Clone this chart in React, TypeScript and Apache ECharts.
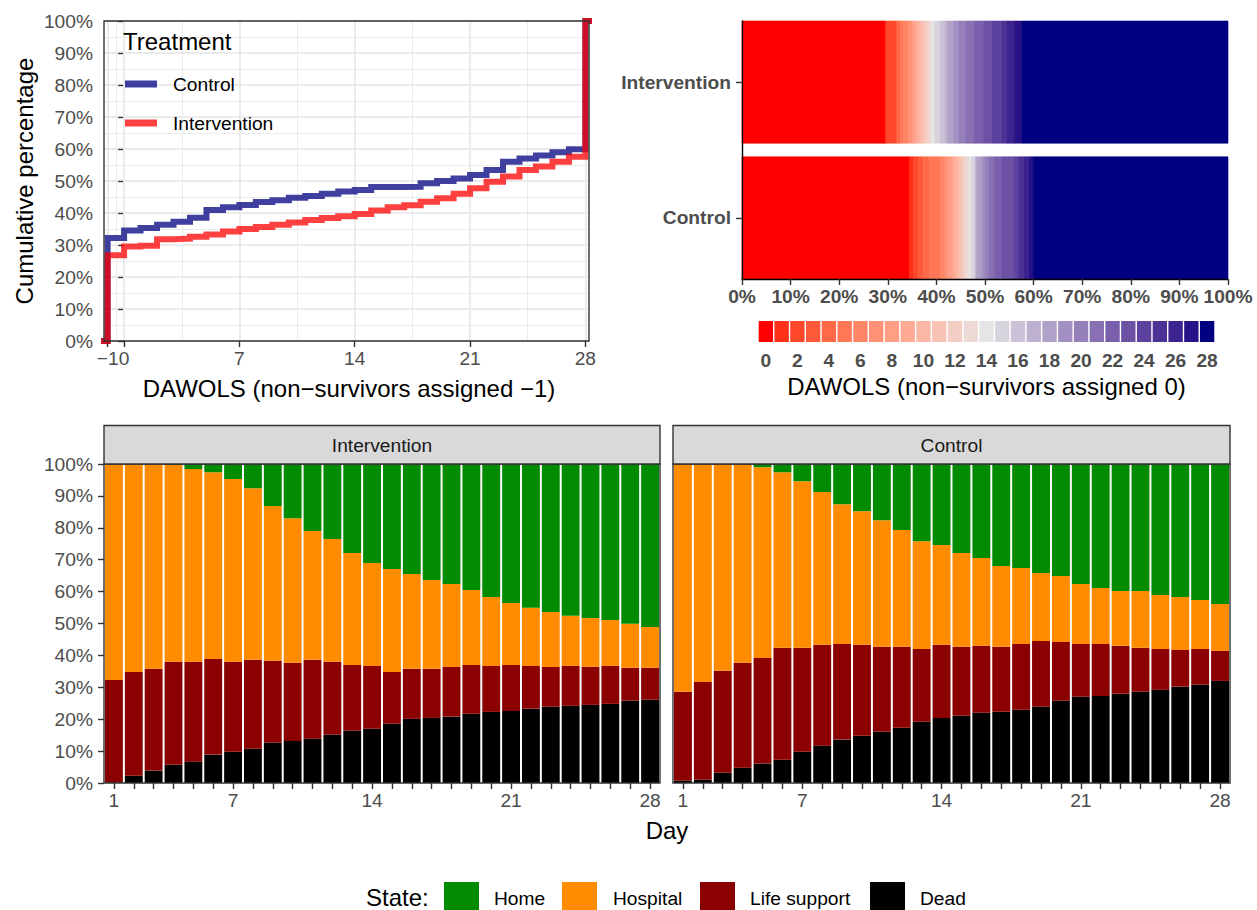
import React, { useEffect, useRef } from "react";
import * as echarts from "echarts";

const FONT = '"Liberation Sans", Arial, Helvetica, sans-serif';
const TICK = "#4D4D4D";
const DARK = "#333333";
const GRIDC = "#EBEBEB";

// ---- Top-left: cumulative DAWOLS (non-survivors assigned -1) ----
const ecdfDays = [-1, 0, 1, 2, 3, 4, 5, 6, 7, 8, 9, 10, 11, 12, 13, 14, 15, 16, 17, 18, 19, 20, 21, 22, 23, 24, 25, 26, 27, 28];
const ecdfControl = [32.2, 34.5, 35.3, 36.3, 37.3, 38.5, 40.9, 41.8, 42.5, 43.4, 44.0, 44.8, 45.3, 46.0, 46.7, 47.2, 48.1, 48.1, 48.2, 49.3, 50.0, 50.8, 51.9, 53.4, 56.0, 57.0, 58.0, 59.0, 59.9, 100];
const ecdfIntervention = [26.8, 29.5, 29.8, 31.8, 32.0, 32.6, 33.3, 34.2, 35.0, 35.6, 36.3, 37.0, 37.8, 38.4, 39.0, 39.7, 40.8, 41.8, 42.4, 43.5, 44.6, 46.0, 47.7, 49.8, 51.4, 53.4, 54.5, 56.0, 57.6, 100];
const ecdfTickDays = [-1, 0, 7, 14, 21, 28];
const ecdfMinorDays = [-0.5, 3.5, 10.5, 17.5, 24.5];

// ---- Top-right: DAWOLS distribution (non-survivors assigned 0) ----
const heatGroups = ["Control", "Intervention"];
const dawolsLevels = ["0", "1", "2", "3", "4", "5", "6", "7", "8", "9", "10", "11", "12", "13", "14", "15", "16", "17", "18", "19", "20", "21", "22", "23", "24", "25", "26", "27", "28"];

// ---- Bottom: daily state ----
const days = ["1", "2", "3", "4", "5", "6", "7", "8", "9", "10", "11", "12", "13", "14", "15", "16", "17", "18", "19", "20", "21", "22", "23", "24", "25", "26", "27", "28"];
const dayLabels = ["1", "7", "14", "21", "28"];
const states = ["Home", "Hospital", "Life support", "Dead"];
const stateColors = ["#008B00", "#FF8C00", "#8B0000", "#000000"];

const intDead = [0.2, 2.3, 3.9, 5.7, 6.7, 8.9, 9.8, 10.7, 12.6, 13.2, 13.9, 15.1, 16.4, 17.0, 18.6, 20.1, 20.4, 20.8, 21.7, 22.3, 22.6, 23.3, 23.9, 24.2, 24.5, 24.8, 25.8, 26.1];
const intLife = [32.1, 32.5, 31.9, 32.3, 31.3, 30.0, 28.2, 27.9, 25.7, 24.5, 24.7, 22.9, 20.6, 19.7, 16.2, 15.7, 15.4, 15.6, 15.3, 14.4, 14.4, 13.4, 12.5, 12.5, 11.9, 11.9, 10.3, 10.0];
const intHosp = [67.7, 65.2, 64.2, 61.7, 60.4, 58.5, 57.3, 53.8, 48.5, 45.3, 40.4, 38.5, 35.1, 32.3, 32.3, 29.7, 27.8, 26.0, 23.5, 21.6, 19.4, 18.2, 17.2, 15.7, 15.3, 14.4, 13.8, 12.8];
const intHome = [0, 0, 0, 0.3, 1.6, 2.6, 4.7, 7.6, 13.2, 17.0, 21.0, 23.5, 27.9, 31.0, 32.9, 34.5, 36.4, 37.6, 39.5, 41.7, 43.6, 45.1, 46.4, 47.6, 48.3, 48.9, 50.1, 51.1];

const ctlDead = [0.7, 1.0, 3.2, 4.8, 6.1, 7.3, 9.8, 11.7, 13.6, 14.8, 16.1, 17.3, 19.2, 20.4, 21.1, 22.0, 22.3, 23.0, 23.9, 25.8, 27.0, 27.3, 28.0, 28.6, 29.2, 30.2, 30.8, 32.0];
const ctlLife = [27.9, 30.7, 32.0, 32.9, 33.1, 35.1, 32.6, 31.6, 30.0, 28.5, 26.6, 25.4, 22.8, 22.9, 21.6, 21.0, 20.4, 20.6, 20.6, 18.4, 16.6, 16.3, 15.0, 13.8, 12.8, 11.5, 11.2, 9.4];
const ctlHosp = [71.4, 68.3, 64.8, 62.3, 59.8, 55.0, 52.2, 47.9, 43.8, 41.9, 39.7, 36.6, 33.8, 31.3, 29.4, 27.5, 25.3, 23.8, 21.3, 20.7, 18.8, 17.5, 17.2, 17.8, 16.9, 16.6, 15.4, 14.7];
const ctlHome = [0, 0, 0, 0, 1.0, 2.6, 5.4, 8.8, 12.6, 14.8, 17.6, 20.7, 24.2, 25.4, 27.9, 29.5, 32.0, 32.6, 34.2, 35.1, 37.6, 38.9, 39.8, 39.8, 41.1, 41.7, 42.6, 43.9];

// ---- Lab gradient (red -> grey90 -> navy, midpoint 14) ----
function hexToRgb(h: string) {
  const n = parseInt(h.slice(1), 16);
  return [(n >> 16) & 255, (n >> 8) & 255, n & 255];
}
function toLab(hex: string) {
  const [r, g, b] = hexToRgb(hex).map((c) => {
    const v = c / 255;
    return v <= 0.04045 ? v / 12.92 : Math.pow((v + 0.055) / 1.055, 2.4);
  });
  const X = (0.4124 * r + 0.3576 * g + 0.1805 * b) / 0.95047;
  const Y = 0.2126 * r + 0.7152 * g + 0.0722 * b;
  const Z = (0.0193 * r + 0.1192 * g + 0.9505 * b) / 1.08883;
  const f = (t: number) => (t > 0.008856 ? Math.cbrt(t) : 7.787 * t + 16 / 116);
  const fx = f(X), fy = f(Y), fz = f(Z);
  return [116 * fy - 16, 500 * (fx - fy), 200 * (fy - fz)];
}
function fromLab(L: number, a: number, bb: number) {
  const fy = (L + 16) / 116;
  const fx = fy + a / 500;
  const fz = fy - bb / 200;
  const inv = (t: number) => (t * t * t > 0.008856 ? t * t * t : (t - 16 / 116) / 7.787);
  const X = inv(fx) * 0.95047, Y = inv(fy), Z = inv(fz) * 1.08883;
  const lin = [
    3.2406 * X - 1.5372 * Y - 0.4986 * Z,
    -0.9689 * X + 1.8758 * Y + 0.0415 * Z,
    0.0557 * X - 0.204 * Y + 1.057 * Z,
  ];
  const out = lin.map((c) => {
    const v = c <= 0.0031308 ? 12.92 * c : 1.055 * Math.pow(c, 1 / 2.4) - 0.055;
    return Math.max(0, Math.min(255, Math.round(v * 255)));
  });
  return `rgb(${out[0]},${out[1]},${out[2]})`;
}
const LOW = toLab("#FF0000"), MID = toLab("#E5E5E5"), HIGH = toLab("#000080");
function divColor(d: number) {
  const [A, B, t] = d <= 14 ? [LOW, MID, d / 14] : [MID, HIGH, (d - 14) / 14];
  return fromLab(A[0] + (B[0] - A[0]) * t, A[1] + (B[1] - A[1]) * t, A[2] + (B[2] - A[2]) * t);
}
const palette = dawolsLevels.map((l) => divColor(Number(l)));

function heatData(cum: number[], g: number) {
  const out: number[][] = [];
  dawolsLevels.forEach((l, d) => {
    const start = d === 0 ? 0 : cum[d];
    const end = cum[d + 1];
    out.push([d, g, start, end]);
  });
  return out;
}

function ecdfData(vals: number[]) {
  return [[-2, 0], ...ecdfDays.map((d, i) => [d, vals[i]]), [29, 100]];
}

const tickStyle = { color: DARK, width: 1.4 };
const labelBase = { color: TICK, fontSize: 19.2, fontFamily: FONT };

function txt(text: string, x: number, y: number, size: number, extra: any = {}) {
  return {
    type: "text",
    x,
    y,
    z: 100,
    silent: true,
    style: {
      text,
      fontSize: size,
      fontFamily: FONT,
      fill: extra.fill || "#000000",
      align: extra.align || "center",
      verticalAlign: "middle",
      fontWeight: extra.fontWeight || "normal",
    },
    rotation: extra.rotation || 0,
  };
}

export default function App() {
  const ref = useRef<HTMLDivElement>(null);
  useEffect(() => {
    if (!ref.current) return;
    const chart = echarts.init(ref.current, null, { renderer: "svg" });

    const stackSeries = (name: string, data: number[], color: string, idx: number, stack: string) => ({
      name,
      type: "bar",
      xAxisIndex: idx,
      yAxisIndex: idx,
      stack,
      data,
      barCategoryGap: "10%",
      itemStyle: { color },
      silent: true,
    });

    const bottomLegend: any[] = [txt("State:", 366, 897, 24, { align: "left" })];
    const keyX = [444, 562, 700, 870];
    const textX = [494, 613, 750, 920];
    states.forEach((s, i) => {
      bottomLegend.push({
        type: "rect",
        z: 100,
        shape: { x: keyX[i], y: 882, width: 35, height: 35 },
        style: { fill: stateColors[i] },
        silent: true,
      });
      bottomLegend.push(txt(s, textX[i], 898, 19.2, { align: "left" }));
    });

    const option: any = {
      animation: false,
      textStyle: { fontFamily: FONT },
      grid: [
        { left: 104, top: 21, width: 485, height: 320, show: true, borderColor: DARK, borderWidth: 1.4, backgroundColor: "transparent", outerBoundsMode: "none", z: 10 },
        { left: 742, top: 21, width: 486, height: 258, outerBoundsMode: "none" },
        { left: 758, top: 321, width: 457, height: 21, outerBoundsMode: "none" },
        { left: 104, top: 464, width: 556, height: 319, show: true, borderColor: DARK, borderWidth: 1.4, backgroundColor: "transparent", outerBoundsMode: "none", z: 10 },
        { left: 673, top: 464, width: 557, height: 319, show: true, borderColor: DARK, borderWidth: 1.4, backgroundColor: "transparent", outerBoundsMode: "none", z: 10 },
      ],
      xAxis: [
        {
          gridIndex: 0,
          type: "value",
          min: -1.22,
          max: 28.22,
          axisLine: { show: false },
          axisTick: { show: true, customValues: ecdfTickDays, length: 6, lineStyle: tickStyle },
          axisLabel: {
            ...labelBase,
            customValues: ecdfTickDays,
            margin: 8,
            formatter: (v: number) => (v < 0 ? "\u2212" + Math.abs(v) : String(v)),
          },
          splitLine: { show: false },
        },
        {
          gridIndex: 1,
          type: "value",
          min: 0,
          max: 100,
          interval: 10,
          z: 5,
          axisLine: { show: true, onZero: false, lineStyle: { color: "#000000", width: 1.4 } },
          axisTick: { show: true, length: 6, lineStyle: tickStyle },
          axisLabel: { ...labelBase, fontWeight: "bold", margin: 8, formatter: "{value}%" },
          splitLine: { show: false },
        },
        {
          gridIndex: 2,
          type: "category",
          data: dawolsLevels,
          axisLine: { show: false },
          axisTick: { show: false },
          axisLabel: { ...labelBase, fontWeight: "bold", interval: 1, margin: 9 },
          splitLine: { show: false },
        },
        {
          gridIndex: 3,
          type: "category",
          data: days,
          axisLine: { show: false },
          axisTick: { show: true, alignWithLabel: true, interval: 0, length: 6, lineStyle: tickStyle },
          axisLabel: { ...labelBase, margin: 8, interval: (i: number, v: string) => dayLabels.includes(v) },
        },
        {
          gridIndex: 4,
          type: "category",
          data: days,
          axisLine: { show: false },
          axisTick: { show: true, alignWithLabel: true, interval: 0, length: 6, lineStyle: tickStyle },
          axisLabel: { ...labelBase, margin: 8, interval: (i: number, v: string) => dayLabels.includes(v) },
        },
      ],
      yAxis: [
        {
          gridIndex: 0,
          type: "value",
          min: 0,
          max: 100,
          interval: 10,
          axisLine: { show: false },
          axisTick: { show: true, length: 6, lineStyle: tickStyle },
          axisLabel: { ...labelBase, margin: 11, formatter: "{value}%" },
          splitLine: { show: true, lineStyle: { color: GRIDC, width: 2 } },
          minorTick: { show: false, splitNumber: 2 },
          minorSplitLine: { show: true, lineStyle: { color: GRIDC, width: 1 } },
        },
        {
          gridIndex: 1,
          type: "value",
          min: 0.55,
          max: 2.45,
          z: 5,
          axisLine: { show: true, onZero: false, lineStyle: { color: "#000000", width: 1.4 } },
          axisTick: { show: true, customValues: [1, 2], length: 6, lineStyle: tickStyle },
          axisLabel: {
            ...labelBase,
            fontWeight: "bold",
            margin: 11,
            customValues: [1, 2],
            formatter: (v: number) => heatGroups[Math.round(v) - 1],
          },
          splitLine: { show: false },
        },
        { gridIndex: 2, type: "value", min: 0, max: 1, show: false },
        {
          gridIndex: 3,
          type: "value",
          min: 0,
          max: 100,
          interval: 10,
          axisLine: { show: false },
          axisTick: { show: true, length: 6, lineStyle: tickStyle },
          axisLabel: { ...labelBase, margin: 11, formatter: "{value}%" },
          splitLine: { show: false },
        },
        { gridIndex: 4, type: "value", min: 0, max: 100, show: false },
      ],
      series: [
        {
          name: "Control",
          type: "line",
          xAxisIndex: 0,
          yAxisIndex: 0,
          step: "end",
          symbol: "none",
          showSymbol: false,
          clip: true,
          z: 3,
          color: "rgba(0,0,128,0.75)",
          lineStyle: { color: "rgba(0,0,128,0.75)", width: 6, cap: "butt", join: "miter" },
          data: ecdfData(ecdfControl),
          silent: true,
          markLine: {
            silent: true,
            symbol: ["none", "none"],
            z: 1,
            label: { show: false },
            animation: false,
            data: [
              ...ecdfTickDays.map((v) => ({ xAxis: v, lineStyle: { color: GRIDC, width: 2, type: "solid" } })),
              ...ecdfMinorDays.map((v) => ({ xAxis: v, lineStyle: { color: GRIDC, width: 1, type: "solid" } })),
            ],
          },
        },
        {
          name: "Intervention",
          type: "line",
          xAxisIndex: 0,
          yAxisIndex: 0,
          step: "end",
          symbol: "none",
          showSymbol: false,
          clip: true,
          z: 4,
          color: "rgba(255,0,0,0.75)",
          lineStyle: { color: "rgba(255,0,0,0.75)", width: 6, cap: "butt", join: "miter" },
          data: ecdfData(ecdfIntervention),
          silent: true,
        },
        {
          type: "custom",
          coordinateSystem: "cartesian2d",
          xAxisIndex: 1,
          yAxisIndex: 1,
          z: 1,
          silent: true,
          encode: { x: [2, 3], y: 1 },
          data: [...heatData(ecdfControl, 1), ...heatData(ecdfIntervention, 2)],
          renderItem: (params: any, api: any) => {
            const d = api.value(0);
            const g = api.value(1);
            const p0 = api.coord([api.value(2), g + 0.45]);
            const p1 = api.coord([api.value(3), g - 0.45]);
            const c = palette[d];
            return {
              type: "rect",
              shape: { x: p0[0], y: p0[1], width: p1[0] - p0[0], height: p1[1] - p0[1] },
              style: { fill: c, stroke: c, lineWidth: 0.6 },
            };
          },
        },
        {
          type: "bar",
          xAxisIndex: 2,
          yAxisIndex: 2,
          barCategoryGap: "9%",
          silent: true,
          data: dawolsLevels.map((l, i) => ({ value: 1, itemStyle: { color: palette[i] } })),
        },
        stackSeries("Dead", intDead, stateColors[3], 3, "int"),
        stackSeries("Life support", intLife, stateColors[2], 3, "int"),
        stackSeries("Hospital", intHosp, stateColors[1], 3, "int"),
        stackSeries("Home", intHome, stateColors[0], 3, "int"),
        stackSeries("Dead", ctlDead, stateColors[3], 4, "ctl"),
        stackSeries("Life support", ctlLife, stateColors[2], 4, "ctl"),
        stackSeries("Hospital", ctlHosp, stateColors[1], 4, "ctl"),
        stackSeries("Home", ctlHome, stateColors[0], 4, "ctl"),
      ],
      graphic: [
        txt("Cumulative percentage", 24, 181, 24, { rotation: Math.PI / 2 }),
        txt("DAWOLS (non\u2212survivors assigned \u22121)", 349, 388, 24),
        txt("DAWOLS (non\u2212survivors assigned 0)", 986.5, 386, 24),
        txt("Day", 667, 830, 24),
        // Treatment legend
        txt("Treatment", 123, 41, 24, { align: "left" }),
        { type: "line", z: 100, shape: { x1: 125, y1: 84, x2: 157, y2: 84 }, style: { stroke: "rgba(0,0,128,0.75)", lineWidth: 7 }, silent: true },
        txt("Control", 173, 84, 19.2, { align: "left" }),
        { type: "line", z: 100, shape: { x1: 125, y1: 123, x2: 157, y2: 123 }, style: { stroke: "rgba(255,0,0,0.75)", lineWidth: 7 }, silent: true },
        txt("Intervention", 173, 123, 19.2, { align: "left" }),
        // strips
        { type: "rect", z: 100, shape: { x: 104, y: 425.5, width: 556, height: 38.5 }, style: { fill: "#D9D9D9", stroke: DARK, lineWidth: 1.4 }, silent: true },
        txt("Intervention", 382, 445, 19.2, { fill: "#1A1A1A" }),
        { type: "rect", z: 100, shape: { x: 673, y: 425.5, width: 557, height: 38.5 }, style: { fill: "#D9D9D9", stroke: DARK, lineWidth: 1.4 }, silent: true },
        txt("Control", 951.5, 445, 19.2, { fill: "#1A1A1A" }),
        ...bottomLegend,
      ],
    };

    chart.setOption(option);
    return () => chart.dispose();
  }, []);

  return <div ref={ref} style={{ position: "absolute", left: 0, top: 0, width: 1257, height: 910 }} />;
}
